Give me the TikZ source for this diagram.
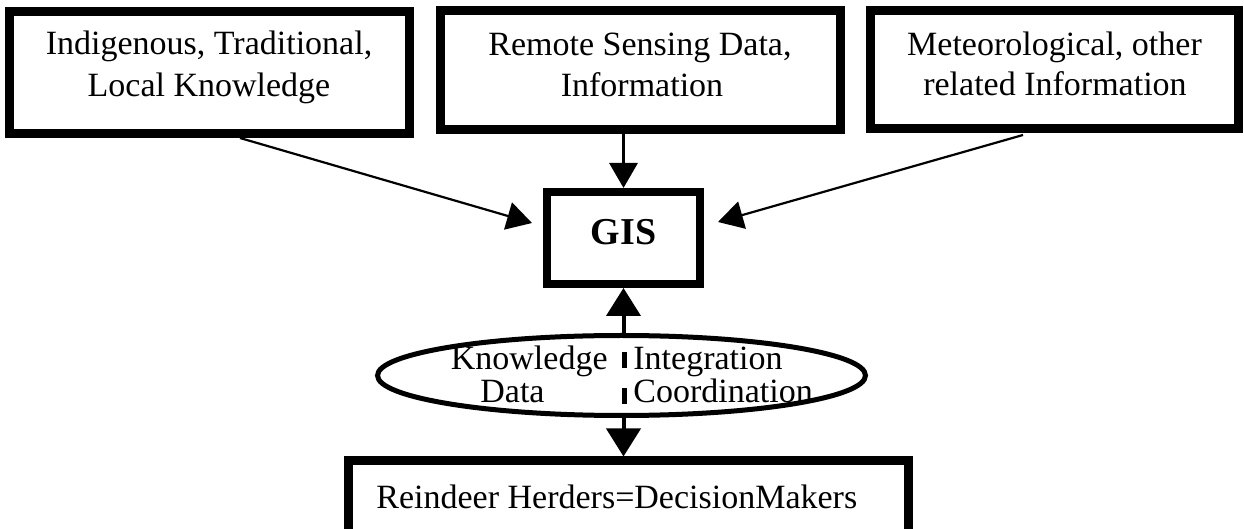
\documentclass[tikz,border=0pt]{standalone}
\usepackage{fontspec}
\setmainfont{Liberation Serif}
\usetikzlibrary{positioning}
\usetikzlibrary{arrows.meta}
\usetikzlibrary{shapes.geometric}

\tikzset{
  thickbox/.style={draw, line width=4.5pt, inner sep=0pt},
  plaintext/.style={inner sep=0pt, font=\fontsize{17}{21}\selectfont},
  thinarrow/.style={line width=1.1pt, -{Triangle[length=12.5pt,width=14pt]}},
  fatarrow/.style={line width=2pt, -{Triangle[length=14pt,width=17pt]}},
}

\begin{document}
\begin{tikzpicture}[x=0.5pt,y=-0.5pt]
        \useasboundingbox (0,0) rectangle (1244,529);

        % Define the boxes on top
        \node[thickbox, minimum width=199.75pt, minimum height=61pt] (local) at (209.25,73) {};
        \node[thickbox, minimum width=200pt, minimum height=59.5pt] (remote) at (640,70.5) {};
        \node[thickbox, minimum width=184pt, minimum height=59pt] (meteo) at (1054,70) {};

        % Their texts, one line each
        \foreach \x/\y/\name/\txt in {209/55/locala/{Indigenous, Traditional,}, 209/97/localb/{Local Knowledge},
                                      640/56/remotea/{Remote Sensing Data,}, 642/97/remoteb/{Information},
                                      1054.5/56/meteoa/{Meteorological, other}, 1055/96/meteob/{related Information}}
            \node[plaintext, anchor=base] (\name) at (\x,\y) {\txt};

        % The GIS box
        \node[thickbox, line width=4pt, minimum width=76.5pt, minimum height=46pt, font=\fontsize{19}{21}\selectfont\bfseries, text height=12.5pt, text depth=5.5pt] (gis) at (623.5,238) {GIS};

        % The ellipse and its texts
        \node[ellipse, draw, line width=2.5pt, inner sep=0pt, minimum width=244pt, minimum height=40pt] (ell) at (621.5,375.5) {};
        \node[plaintext, anchor=base east] (know) at (608,370) {Knowledge};
        \node[plaintext, anchor=base west] (data) at (480,403) {Data};
        \node[plaintext, anchor=base west] (integ) at (633,370) {Integration};
        \node[plaintext, anchor=base west] (coord) at (633,403) {Coordination};
        \coordinate (dtop) at (624,352);
        \coordinate (dbot) at (624,408);
        \draw[line width=2.5pt, dash pattern=on 8pt off 10pt] (dtop) -- (dbot);

        % The box at the bottom (cut by the page)
        \node[thickbox, minimum width=280pt, minimum height=50pt] (herd) at (628.5,511) {};
        \node[plaintext, anchor=base west] (herdtext) at (376,509) {Reindeer Herders=DecisionMakers};

        % Draw the arrows
        \coordinate (s1) at (240,138);
        \coordinate (s3) at (1023,135);
        \draw[thinarrow] (s1) -- ([xshift=-5.5pt,yshift=7.5pt]gis.west);
        \draw[thinarrow] (s3) -- ([xshift=7pt,yshift=8pt]gis.east);
        \draw[thinarrow, line width=1.6pt] (gis.north |- remote.south) -- (gis.north);
        \draw[fatarrow] (gis.south |- ell.north) -- (gis.south);
        \draw[fatarrow] (gis.south |- ell.south) -- (gis.south |- herd.north);
\end{tikzpicture}
\end{document}
